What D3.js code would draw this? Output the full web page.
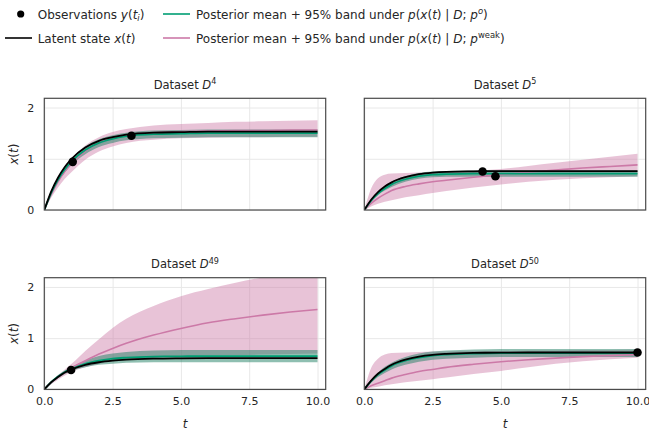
<!DOCTYPE html>
<html>
<head>
<meta charset="utf-8">
<script src="https://cdn.jsdelivr.net/npm/d3@7"></script>
<style>
  body { margin: 0; background: #fff; }
  svg { font-family: "DejaVu Sans", sans-serif; }
  text { fill: #262626; }
</style>
</head>
<body>
<script>
var width = 649, height = 432;

// time points the curves were read at
var tGrid = [0, 0.25, 0.5, 0.75, 1, 1.5, 2, 2.5, 3, 4, 5, 6, 7, 8, 9, 10];

// dataset D4
var latent4   = [0, 0.36, 0.63, 0.84, 1.00, 1.22, 1.35, 1.42, 1.47, 1.51, 1.52, 1.53, 1.53, 1.53, 1.53, 1.53];
var tealMean4 = [0, 0.33, 0.59, 0.79, 0.95, 1.17, 1.31, 1.39, 1.44, 1.48, 1.49, 1.50, 1.50, 1.50, 1.50, 1.50];
var tealLo4   = [0, 0.30, 0.54, 0.73, 0.88, 1.09, 1.23, 1.31, 1.36, 1.40, 1.41, 1.42, 1.42, 1.42, 1.42, 1.42];
var tealHi4   = [0, 0.36, 0.63, 0.84, 1.01, 1.24, 1.38, 1.46, 1.51, 1.55, 1.56, 1.57, 1.57, 1.57, 1.57, 1.57];
var pinkMean4 = [0, 0.30, 0.55, 0.75, 0.91, 1.15, 1.31, 1.40, 1.46, 1.51, 1.53, 1.54, 1.55, 1.55, 1.56, 1.56];
var pinkLo4   = [0, 0.24, 0.44, 0.61, 0.74, 0.98, 1.14, 1.24, 1.31, 1.37, 1.40, 1.41, 1.42, 1.42, 1.43, 1.43];
var pinkHi4   = [0, 0.36, 0.63, 0.84, 1.00, 1.26, 1.42, 1.52, 1.58, 1.65, 1.68, 1.70, 1.72, 1.73, 1.74, 1.75];
var obsT4 = [1.04, 3.19], obsY4 = [0.94, 1.45];

// dataset D5
var latent5   = [0, 0.20, 0.35, 0.46, 0.54, 0.64, 0.70, 0.73, 0.745, 0.755, 0.76, 0.76, 0.76, 0.76, 0.76, 0.76];
var tealMean5 = [0, 0.18, 0.32, 0.42, 0.50, 0.60, 0.66, 0.69, 0.70, 0.71, 0.71, 0.71, 0.71, 0.71, 0.71, 0.71];
var tealLo5   = [0, 0.16, 0.29, 0.38, 0.45, 0.55, 0.61, 0.64, 0.65, 0.65, 0.65, 0.65, 0.65, 0.65, 0.65, 0.65];
var tealHi5   = [0, 0.20, 0.35, 0.46, 0.55, 0.66, 0.72, 0.75, 0.76, 0.77, 0.77, 0.77, 0.77, 0.77, 0.77, 0.77];
var pinkMean5 = [0, 0.13, 0.23, 0.31, 0.38, 0.46, 0.51, 0.55, 0.58, 0.64, 0.69, 0.74, 0.78, 0.82, 0.85, 0.88];
var pinkLo5   = [0, 0.07, 0.12, 0.16, 0.19, 0.25, 0.29, 0.33, 0.37, 0.44, 0.50, 0.55, 0.59, 0.62, 0.64, 0.66];
var pinkHi5   = [0, 0.42, 0.62, 0.69, 0.71, 0.72, 0.73, 0.74, 0.75, 0.77, 0.80, 0.86, 0.92, 0.98, 1.04, 1.10];
var obsT5 = [4.33, 4.80], obsY5 = [0.75, 0.66];

// dataset D49
var latent49   = [0, 0.14, 0.24, 0.33, 0.39, 0.48, 0.53, 0.56, 0.58, 0.60, 0.607, 0.61, 0.61, 0.61, 0.61, 0.61];
var tealMean49 = [0, 0.14, 0.25, 0.34, 0.40, 0.50, 0.56, 0.60, 0.62, 0.64, 0.645, 0.65, 0.65, 0.65, 0.65, 0.65];
var tealLo49   = [0, 0.12, 0.22, 0.30, 0.36, 0.43, 0.48, 0.50, 0.52, 0.53, 0.53, 0.53, 0.53, 0.53, 0.53, 0.53];
var tealHi49   = [0, 0.15, 0.27, 0.37, 0.44, 0.56, 0.65, 0.70, 0.73, 0.76, 0.77, 0.77, 0.77, 0.77, 0.77, 0.77];
var pinkMean49 = [0, 0.13, 0.24, 0.33, 0.42, 0.56, 0.69, 0.80, 0.90, 1.06, 1.19, 1.30, 1.38, 1.45, 1.51, 1.56];
var pinkLo49   = [0, 0.10, 0.19, 0.27, 0.34, 0.43, 0.50, 0.55, 0.58, 0.62, 0.64, 0.66, 0.67, 0.68, 0.69, 0.70];
var pinkHi49   = [0, 0.15, 0.28, 0.39, 0.50, 0.75, 0.98, 1.20, 1.38, 1.63, 1.82, 1.96, 2.08, 2.19, 2.29, 2.38];
var obsT49 = [0.98], obsY49 = [0.38];

// dataset D50
var latent50   = [0, 0.17, 0.305, 0.40, 0.48, 0.58, 0.64, 0.674, 0.693, 0.712, 0.717, 0.72, 0.72, 0.72, 0.72, 0.72];
var tealMean50 = [0, 0.16, 0.29, 0.38, 0.46, 0.56, 0.62, 0.66, 0.68, 0.70, 0.71, 0.71, 0.71, 0.71, 0.71, 0.71];
var tealLo50   = [0, 0.13, 0.24, 0.32, 0.39, 0.48, 0.54, 0.58, 0.60, 0.62, 0.63, 0.63, 0.63, 0.63, 0.63, 0.63];
var tealHi50   = [0, 0.19, 0.33, 0.44, 0.52, 0.63, 0.70, 0.74, 0.76, 0.78, 0.79, 0.79, 0.79, 0.79, 0.79, 0.79];
var pinkMean50 = [0, 0.07, 0.12, 0.17, 0.22, 0.29, 0.35, 0.39, 0.43, 0.49, 0.54, 0.58, 0.61, 0.64, 0.66, 0.68];
var pinkLo50   = [0, 0.03, 0.05, 0.08, 0.10, 0.14, 0.17, 0.20, 0.23, 0.30, 0.36, 0.43, 0.50, 0.55, 0.59, 0.62];
var pinkHi50   = [0, 0.42, 0.60, 0.68, 0.71, 0.72, 0.73, 0.74, 0.74, 0.75, 0.75, 0.76, 0.76, 0.77, 0.77, 0.78];
var obsT50 = [10.0], obsY50 = [0.72];

var xTicks = [0, 2.5, 5, 7.5, 10];
var yTicks = [0, 1, 2];

var teal = "#009e73", pink = "#cc79a7", tealBand = "#1f8063";

var panels = [
  {sup: "4",  col: 0, row: 0, latent: latent4,  tm: tealMean4,  tl: tealLo4,  th: tealHi4,  pm: pinkMean4,  pl: pinkLo4,  ph: pinkHi4,  ot: obsT4,  oy: obsY4},
  {sup: "5",  col: 1, row: 0, latent: latent5,  tm: tealMean5,  tl: tealLo5,  th: tealHi5,  pm: pinkMean5,  pl: pinkLo5,  ph: pinkHi5,  ot: obsT5,  oy: obsY5},
  {sup: "49", col: 0, row: 1, latent: latent49, tm: tealMean49, tl: tealLo49, th: tealHi49, pm: pinkMean49, pl: pinkLo49, ph: pinkHi49, ot: obsT49, oy: obsY49},
  {sup: "50", col: 1, row: 1, latent: latent50, tm: tealMean50, tl: tealLo50, th: tealHi50, pm: pinkMean50, pl: pinkLo50, ph: pinkHi50, ot: obsT50, oy: obsY50}
];

var svg = d3.select("body").append("svg")
  .attr("width", width).attr("height", height);

var lefts = [44.3, 364.3], tops = [98.3, 277.7];
var w = 281.4, h = 111.7;

var x = d3.scaleLinear().domain([0, 10.3]).range([0, w]);
var y = d3.scaleLinear().domain([0, 2.18]).range([h, 0]);

// write a label made of plain / italic / super / subscript pieces
function richText(sel, parts, size) {
  var back = 0;
  parts.forEach(function(p) {
    var st = p[1] || "";
    var t = sel.append("tspan").text(p[0]);
    var shift = 0;
    if (st.indexOf("sup") >= 0) shift = -size * 0.4;
    if (st.indexOf("sub") >= 0) shift = size * 0.22;
    if (back + shift !== 0) t.attr("dy", back + shift);
    back = -shift;
    if (st.indexOf("i") >= 0) t.attr("font-style", "italic");
    if (shift !== 0) t.attr("font-size", size * 0.7);
  });
}

panels.forEach(function(p, k) {
  var g = svg.append("g")
    .attr("transform", "translate(" + lefts[p.col] + "," + tops[p.row] + ")");

  g.append("clipPath").attr("id", "clip" + k)
    .append("rect").attr("width", w).attr("height", h);

  // grid
  g.append("g").attr("class", "grid")
    .attr("transform", "translate(0," + h + ")")
    .call(d3.axisBottom(x).tickValues(xTicks).tickSize(-h).tickFormat(""))
    .call(function(a) { a.select(".domain").remove(); });
  g.append("g").attr("class", "grid")
    .call(d3.axisLeft(y).tickValues(yTicks).tickSize(-w).tickFormat(""))
    .call(function(a) { a.select(".domain").remove(); });
  g.selectAll(".grid line").attr("stroke", "#e8e8e8").attr("stroke-width", 1);

  var rows = tGrid.map(function(t, i) {
    return {t: t, lat: p.latent[i], tm: p.tm[i], tl: p.tl[i], th: p.th[i], pm: p.pm[i], pl: p.pl[i], ph: p.ph[i]};
  });

  var plot = g.append("g").attr("clip-path", "url(#clip" + k + ")");

  function band(lo, hi) {
    return d3.area().curve(d3.curveMonotoneX)
      .x(function(d) { return x(d.t); })
      .y0(function(d) { return y(d[lo]); })
      .y1(function(d) { return y(d[hi]); });
  }
  function line(key) {
    return d3.line().curve(d3.curveMonotoneX)
      .x(function(d) { return x(d.t); })
      .y(function(d) { return y(d[key]); });
  }

  plot.append("path").datum(rows).attr("d", band("pl", "ph"))
    .attr("fill", pink).attr("fill-opacity", 0.45);
  plot.append("path").datum(rows).attr("d", band("tl", "th"))
    .attr("fill", tealBand).attr("fill-opacity", 0.5);
  plot.append("path").datum(rows).attr("d", line("pm"))
    .attr("fill", "none").attr("stroke", pink).attr("stroke-width", 1.6);
  plot.append("path").datum(rows).attr("d", line("tm"))
    .attr("fill", "none").attr("stroke", teal).attr("stroke-width", 1.8);
  plot.append("path").datum(rows).attr("d", line("lat"))
    .attr("fill", "none").attr("stroke", "#000").attr("stroke-width", 1.8);

  g.selectAll("circle.obs").data(p.ot).enter().append("circle")
    .attr("class", "obs")
    .attr("cx", function(d) { return x(d); })
    .attr("cy", function(d, i) { return y(p.oy[i]); })
    .attr("r", 4.3).attr("fill", "#000");

  // frame
  g.append("rect").attr("width", w).attr("height", h)
    .attr("fill", "none").attr("stroke", "#4a4a4a").attr("stroke-width", 1.2);

  // ticks
  if (p.col === 0) {
    var ya = g.append("g")
      .call(d3.axisLeft(y).tickValues(yTicks).tickSize(0).tickPadding(10).tickFormat(d3.format("d")));
    ya.select(".domain").remove();
    ya.selectAll("text").attr("font-size", 11).attr("font-family", "DejaVu Sans").style("fill", "#262626");

    var yl = svg.append("text")
      .attr("transform", "translate(18," + (tops[p.row] + h / 2) + ") rotate(-90)")
      .attr("text-anchor", "middle").attr("font-size", 12);
    richText(yl, [["x", "i"], ["("], ["t", "i"], [")"]], 12);
  }
  if (p.row === 1) {
    var xa = g.append("g").attr("transform", "translate(0," + h + ")")
      .call(d3.axisBottom(x).tickValues(xTicks).tickSize(0).tickPadding(8).tickFormat(d3.format(".1f")));
    xa.select(".domain").remove();
    xa.selectAll("text").attr("font-size", 11).attr("font-family", "DejaVu Sans").style("fill", "#262626");

    svg.append("text")
      .attr("x", lefts[p.col] + w / 2).attr("y", 428)
      .attr("text-anchor", "middle").attr("font-size", 12).attr("font-style", "italic")
      .text("t");
  }

  // title
  var title = svg.append("text")
    .attr("x", lefts[p.col] + w / 2).attr("y", tops[p.row] - 9.5)
    .attr("text-anchor", "middle").attr("font-size", 11.5);
  richText(title, [["Dataset "], ["D", "i"], [p.sup, "sup"]], 11.5);
});

// legend
var lg = svg.append("g").attr("class", "legend");
var fs = 12;

lg.append("circle").attr("cx", 20.7).attr("cy", 14).attr("r", 3.6).attr("fill", "#000");
richText(lg.append("text").attr("x", 37.7).attr("y", 18.5).attr("font-size", fs),
  [["Observations "], ["y", "i"], ["("], ["t", "i"], ["i", "subi"], [")"]], fs);

lg.append("line").attr("x1", 5).attr("x2", 32).attr("y1", 38).attr("y2", 38)
  .attr("stroke", "#000").attr("stroke-width", 1.6);
richText(lg.append("text").attr("x", 37.7).attr("y", 42.5).attr("font-size", fs),
  [["Latent state "], ["x", "i"], ["("], ["t", "i"], [")"]], fs);

lg.append("line").attr("x1", 163).attr("x2", 190).attr("y1", 14).attr("y2", 14)
  .attr("stroke", teal).attr("stroke-width", 1.6);
richText(lg.append("text").attr("x", 196).attr("y", 18.5).attr("font-size", fs),
  [["Posterior mean + 95% band under "], ["p", "i"], ["("], ["x", "i"], ["("], ["t", "i"], [") | "],
   ["D", "i"], ["; "], ["p", "i"], ["o", "supi"], [")"]], fs);

lg.append("line").attr("x1", 163).attr("x2", 190).attr("y1", 38).attr("y2", 38)
  .attr("stroke", pink).attr("stroke-width", 1.6);
richText(lg.append("text").attr("x", 196).attr("y", 42.5).attr("font-size", fs),
  [["Posterior mean + 95% band under "], ["p", "i"], ["("], ["x", "i"], ["("], ["t", "i"], [") | "],
   ["D", "i"], ["; "], ["p", "i"], ["weak", "sup"], [")"]], fs);
</script>
</body>
</html>
